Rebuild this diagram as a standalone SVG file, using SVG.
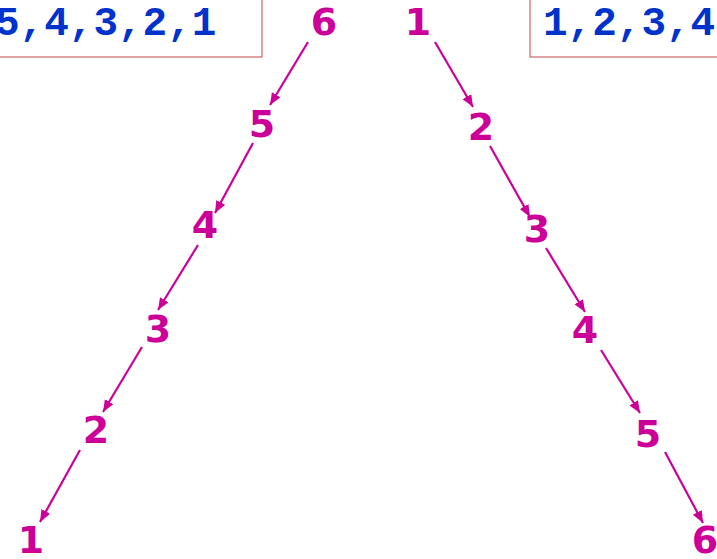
<svg xmlns="http://www.w3.org/2000/svg" width="717" height="559" viewBox="0 0 717 559">
<style>
.n{font-family:"DejaVu Sans",Verdana,sans-serif;font-weight:bold;font-size:38px;fill:#cc0099;text-anchor:middle}
.b{font-family:"Liberation Mono","Courier New",monospace;font-weight:bold;font-size:41px;fill:#0033cc}
.box{fill:#fff;stroke:#cc6666;stroke-width:1.2}
.c line{stroke:#cc0099;stroke-width:2.2;marker-end:url(#ah)}
</style>
<defs>
<marker id="ah" markerUnits="userSpaceOnUse" markerWidth="14" markerHeight="12" refX="12" refY="5" orient="auto">
<path d="M0,0 L12,5 L0,10 Z" fill="#cc0099"/>
</marker>
</defs>
<g id="boxL"><rect class="box" x="-10" y="-10" width="272" height="67"/><text class="b" x="-5" y="35">5,4,3,2,1</text></g>
<g id="boxR"><rect class="box" x="530" y="-10" width="200" height="67"/><text class="b" x="543" y="35">1,2,3,4</text></g>
<g id="L6"><text class="n" x="324" y="35">6</text></g>
<g id="L5"><text class="n" x="262" y="137">5</text></g>
<g id="L4"><text class="n" x="205" y="238">4</text></g>
<g id="L3"><text class="n" x="158" y="342">3</text></g>
<g id="L2"><text class="n" x="96" y="443">2</text></g>
<g id="L1"><text class="n" x="31" y="553">1</text></g>
<g id="R1"><text class="n" x="418" y="35">1</text></g>
<g id="R2"><text class="n" x="481" y="140">2</text></g>
<g id="R3"><text class="n" x="537" y="242">3</text></g>
<g id="R4"><text class="n" x="585" y="343">4</text></g>
<g id="R5"><text class="n" x="648" y="447">5</text></g>
<g id="R6"><text class="n" x="705" y="553">6</text></g>
<g id="connectors" class="c">
<line x1="308" y1="42" x2="270" y2="105"/>
<line x1="253" y1="143" x2="215" y2="213"/>
<line x1="198" y1="245" x2="158" y2="310"/>
<line x1="142" y1="347" x2="103" y2="412"/>
<line x1="80" y1="450" x2="40" y2="522"/>
<line x1="435" y1="42" x2="473" y2="107"/>
<line x1="490" y1="146" x2="530" y2="217"/>
<line x1="546" y1="248" x2="585" y2="312"/>
<line x1="601" y1="350" x2="640" y2="413"/>
<line x1="665" y1="452" x2="703" y2="523"/>
</g>
</svg>
